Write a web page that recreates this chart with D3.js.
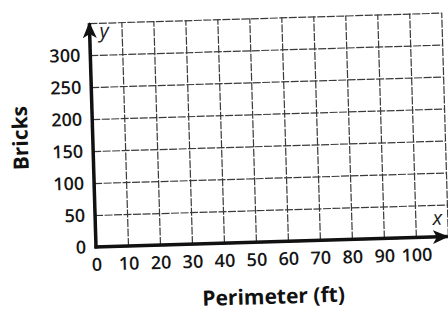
<!DOCTYPE html>
<html>
<head>
<meta charset="utf-8">
<script src="https://cdn.jsdelivr.net/npm/d3@7/dist/d3.min.js"></script>
<style>
  html, body { margin: 0; padding: 0; background: #fff; }
  svg { display: block; }
</style>
</head>
<body>
<div id="chart"></div>
<script>
// griglia vuota: perimetro (ft) contro mattoni
const xTickLabels = [0, 10, 20, 30, 40, 50, 60, 70, 80, 90, 100];
const yTickLabels = [0, 50, 100, 150, 200, 250, 300];
const xGridValues = [0, 10, 20, 30, 40, 50, 60, 70, 80, 90, 100, 110];
const yGridValues = [0, 50, 100, 150, 200, 250, 300, 350];
const xDomain = [0, 110];
const yDomain = [0, 350];
const xTitle = 'Perimeter (ft)';
const yTitle = 'Bricks';

const width = 448, height = 312;
const origin = { x: 96, y: 247 };
// la scansione è leggermente ruotata
const tilt = -1.7;

const svg = d3.select('#chart').append('svg')
    .attr('width', width)
    .attr('height', height);

const g = svg.append('g')
    .attr('transform', `rotate(${tilt},${origin.x},${origin.y})`);

const x = d3.scaleLinear().domain(xDomain).range([origin.x, origin.x + 352]);
const y = d3.scaleLinear().domain(yDomain).range([origin.y, origin.y - 224]);

const fontTick = "'Open Sans', 'Noto Sans', sans-serif";

// griglia verticale
g.append('g')
    .attr('transform', `translate(0,${origin.y})`)
    .call(d3.axisBottom(x).tickValues(xGridValues).tickSize(-(y.range()[0] - y.range()[1])).tickFormat(''))
    .call(s => s.select('.domain').remove())
    .call(s => s.selectAll('line').attr('stroke', '#3a3a3a').attr('stroke-width', 1.2).attr('stroke-dasharray', '8,1.5'));

// griglia orizzontale
g.append('g')
    .attr('transform', `translate(${origin.x},0)`)
    .call(d3.axisLeft(y).tickValues(yGridValues).tickSize(-(x.range()[1] - x.range()[0])).tickFormat(''))
    .call(s => s.select('.domain').remove())
    .call(s => s.selectAll('line').attr('stroke', '#3a3a3a').attr('stroke-width', 1.2).attr('stroke-dasharray', '8,1.5'));

// etichette asse x
g.append('g')
    .attr('transform', `translate(0,${origin.y})`)
    .call(d3.axisBottom(x).tickValues(xTickLabels).tickSize(0).tickPadding(11))
    .call(s => s.select('.domain').remove())
    .call(s => s.selectAll('text')
        .attr('font-family', fontTick)
        .attr('font-size', 18)
        .attr('font-weight', 600)
        .attr('fill', '#151515'));

// etichette asse y
g.append('g')
    .attr('transform', `translate(${origin.x},0)`)
    .call(d3.axisLeft(y).tickValues(yTickLabels).tickSize(0).tickPadding(10))
    .call(s => s.select('.domain').remove())
    .call(s => s.selectAll('text')
        .attr('font-family', fontTick)
        .attr('font-size', 18)
        .attr('font-weight', 600)
        .attr('fill', '#151515'));

// frecce degli assi
const defs = svg.append('defs');
defs.append('marker')
    .attr('id', 'freccia')
    .attr('markerUnits', 'userSpaceOnUse')
    .attr('viewBox', '0 0 16 14')
    .attr('refX', 15).attr('refY', 7)
    .attr('markerWidth', 16).attr('markerHeight', 14)
    .attr('orient', 'auto')
    .append('path')
    .attr('d', 'M0,0 L16,7 L0,14 L4,7 Z')
    .attr('fill', '#111');

g.append('line')
    .attr('x1', x(0) - 1.5).attr('x2', x(xDomain[1]))
    .attr('y1', y(0)).attr('y2', y(0))
    .attr('stroke', '#111').attr('stroke-width', 3.5)
    .attr('marker-end', 'url(#freccia)');

g.append('line')
    .attr('x1', x(0)).attr('x2', x(0))
    .attr('y1', y(0) + 1.5).attr('y2', y(yDomain[1]))
    .attr('stroke', '#111').attr('stroke-width', 3.5)
    .attr('marker-end', 'url(#freccia)');

// nomi delle variabili
g.append('text')
    .attr('x', x(0) + 10).attr('y', y(yDomain[1]) + 15)
    .attr('font-family', fontTick)
    .attr('font-style', 'italic')
    .attr('font-size', 20)
    .attr('fill', '#1a1a1a')
    .text('y');

g.append('text')
    .attr('x', x(xDomain[1]) - 10).attr('y', y(0) - 12)
    .attr('text-anchor', 'middle')
    .attr('font-family', fontTick)
    .attr('font-style', 'italic')
    .attr('font-size', 20)
    .attr('fill', '#1a1a1a')
    .text('x');

// titoli
g.append('text')
    .attr('transform', `translate(31,136) rotate(-90)`)
    .attr('text-anchor', 'middle')
    .attr('font-family', fontTick)
    .attr('font-weight', 700)
    .attr('font-size', 21)
    .attr('fill', '#111')
    .text(yTitle);

g.append('text')
    .attr('x', 272).attr('y', 309)
    .attr('text-anchor', 'middle')
    .attr('font-family', fontTick)
    .attr('font-weight', 700)
    .attr('font-size', 21)
    .attr('fill', '#111')
    .text(xTitle);
</script>
</body>
</html>
